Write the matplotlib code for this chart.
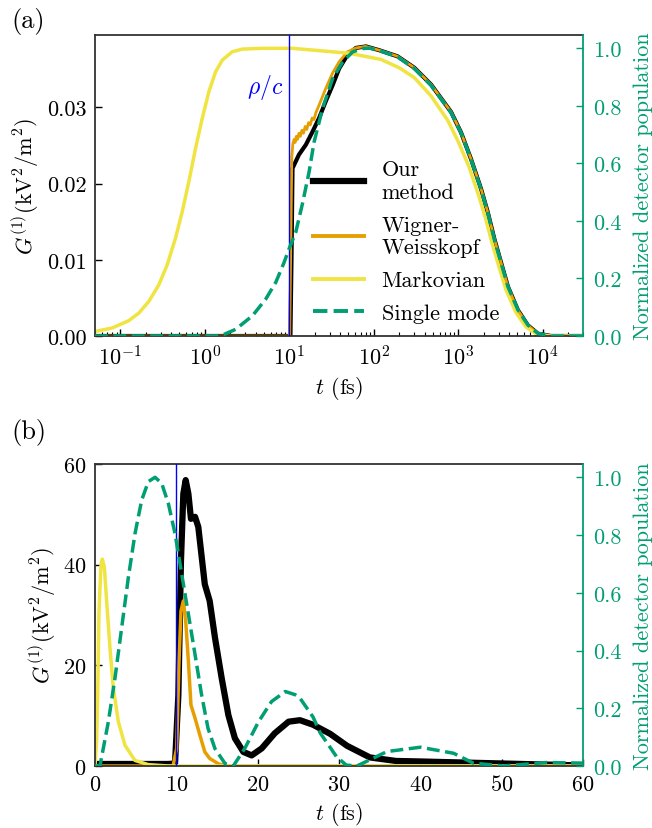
import numpy as np
import matplotlib
matplotlib.use("Agg")
import matplotlib.pyplot as plt

plt.rcParams['font.family'] = 'serif'
plt.rcParams['font.serif'] = ['cmr10']
plt.rcParams['mathtext.fontset'] = 'cm'
plt.rcParams['axes.formatter.use_mathtext'] = True
plt.rcParams['font.size'] = 16

BLACK = 'black'
ORANGE = '#E69F00'
YELLOW = '#F0E442'
GREEN = '#009E73'
SPINE = '#333333'

# ---- panel (a): log time axis (fs), G in kV^2/m^2 ----
t_our_a = [0.05, 10.3, 10.6, 10.9, 13.0, 15.7, 18.8, 22.5, 27.0, 32.5, 38.9, 48.9, 61.3, 80.6,
           116, 191, 302, 476, 822, 1079, 1418, 1862, 2240, 2680, 3219, 3866, 5080, 6670,
           8770, 12600, 30000]
g_our_a = [0.0, 0.0, 0.010, 0.0220, 0.0238, 0.0251, 0.0268, 0.0286, 0.0308, 0.0329, 0.0351,
           0.0369, 0.0378, 0.0380,
           0.0375, 0.0367, 0.0352, 0.0330, 0.0294, 0.0267, 0.0232, 0.0193, 0.0162, 0.0127,
           0.0096, 0.0065, 0.0034, 0.0014, 0.0003, 0.0, 0.0]

t_ww_a = [0.05, 10.1, 10.4, 10.7, 11.0, 11.4, 11.7, 12.1, 12.5, 13.0, 13.5, 14.1, 14.7, 15.4,
          16.1, 16.9, 17.7, 18.6, 19.6, 20.6, 22.5, 27.0, 32.5, 38.9, 48.9, 61.3, 80.0,
          116, 191, 302, 476, 822, 1079, 1418, 1862, 2240, 2680, 3219, 3866, 5080, 6670,
          8770, 12600, 30000]
g_ww_a = [0.0, 0.0, 0.012, 0.0235, 0.0252, 0.0258, 0.0254, 0.0262, 0.0258, 0.0266, 0.0262,
          0.0270, 0.0266, 0.0275, 0.0271, 0.0280, 0.0277, 0.0286, 0.0284, 0.0293, 0.0303,
          0.0325, 0.0345, 0.0360, 0.0373, 0.0378, 0.0380,
          0.0375, 0.0367, 0.0352, 0.0330, 0.0294, 0.0267, 0.0232, 0.0193, 0.0162, 0.0127,
          0.0096, 0.0065, 0.0034, 0.0014, 0.0003, 0.0, 0.0]

t_mark_a = [0.0505, 0.0797, 0.125, 0.165, 0.217, 0.285, 0.358, 0.449, 0.540, 0.646, 0.776,
            0.931, 1.115, 1.34, 1.61, 2.11, 2.78, 4.79, 10.9, 51, 121, 200, 302, 476, 750,
            1000, 1340, 1760, 2120, 2540, 3050, 3660, 4810, 6320, 8300, 12000, 30000]
g_mark_a = [0.0006, 0.00105, 0.0020, 0.0030, 0.00454, 0.00672, 0.00934, 0.01284, 0.01633,
            0.02026, 0.02464, 0.02857, 0.03206, 0.03468, 0.03621, 0.0373, 0.03765, 0.03775,
            0.03775, 0.0371, 0.0363, 0.0352, 0.0339, 0.0315, 0.0283, 0.0255, 0.0222, 0.0183,
            0.0153, 0.0120, 0.0090, 0.0061, 0.0031, 0.0012, 0.0003, 0.0, 0.0]

t_single_a = [0.05, 1.34, 1.7, 2.31, 3.65, 5.25, 6.90, 8.65, 9.9, 11.9, 14.3, 17.1, 19.6, 24.7,
              32.5, 42.7, 56, 73.6, 90, 121, 191, 302, 476, 822, 1079, 1418, 1862, 2240,
              2680, 3219, 3866, 5080, 6670, 8770, 12600, 30000]
p_single_a = [0.0, 0.0, 0.006, 0.023, 0.070, 0.128, 0.186, 0.255, 0.302, 0.36, 0.46, 0.569,
              0.673, 0.790, 0.894, 0.952, 0.987, 0.999, 1.0, 0.99, 0.970, 0.929, 0.871, 0.776,
              0.706, 0.613, 0.509, 0.428, 0.334, 0.253, 0.172, 0.091, 0.038, 0.009, 0.0, 0.0]

# ---- panel (b): linear time axis (fs) ----
t_our_b = [0, 9.0, 9.84, 10.25, 10.57, 10.86, 11.15, 11.48, 11.8, 12.3, 12.7, 13.12, 13.5,
           14.1, 14.75, 15.57, 16.4, 17.2, 18.24, 19.26, 20.5, 22.1, 23.8, 25.2, 26.8, 28.9,
           31.0, 33.8, 37, 40, 45, 50, 55, 60]
g_our_b = [0.4, 0.4, 0.5, 14.1, 40.8, 54.1, 56.8, 54.1, 49.1, 49.5, 47.5, 41.5, 36.1, 32.8,
           25.5, 17.5, 10.1, 5.5, 2.8, 2.1, 3.5, 6.5, 8.8, 9.1, 8.2, 6.4, 4.0, 1.7, 1.0, 0.9,
           0.7, 0.5, 0.3, 0.1]

t_ww_b = [0, 9.6, 10.04, 10.33, 10.57, 10.86, 11.15, 11.48, 11.8, 12.3, 12.9, 13.5, 14.1,
          15.2, 16.4, 60]
g_ww_b = [0.0, 0.0, 3.5, 20.8, 30.8, 32.8, 28.8, 20.8, 12.1, 9.5, 6.1, 2.8, 1.5, 0.4, 0.0, 0.0]

t_mark_b = [0, 0.2, 0.33, 0.49, 0.74, 0.90, 1.15, 1.43, 1.84, 2.25, 2.87, 3.69, 4.92, 6.56,
            9.0, 60]
g_mark_b = [0.0, 5.0, 14.1, 30.8, 40.1, 41.1, 39.5, 32.8, 23.5, 15.5, 8.8, 4.1, 1.1, 0.27,
            0.0, 0.0]

t_single_b = [0, 0.61, 1.64, 2.46, 3.28, 4.10, 4.92, 5.74, 6.56, 7.38, 8.2, 9.02, 9.84, 10.66,
              11.48, 12.3, 13.1, 13.9, 14.75, 16.0, 17.0, 18.4, 20.1, 21.7, 23.4, 24.6, 25.2,
              26.8, 27.7, 29.7, 30.9, 32.2, 35.9, 40, 44.1, 46.5, 50.2, 55.5, 60]
p_single_b = [0.0, 0.0, 0.153, 0.305, 0.479, 0.653, 0.805, 0.921, 0.985, 1.0, 0.979, 0.909,
              0.805, 0.665, 0.526, 0.386, 0.247, 0.130, 0.06, 0.008, 0.0, 0.06, 0.153, 0.223,
              0.258, 0.247, 0.235, 0.17, 0.114, 0.032, 0.003, 0.0, 0.05, 0.065, 0.044, 0.01,
              0.0, 0.012, 0.01]

rho_over_c = 10.0

labels = ['Our\nmethod', 'Wigner-\nWeisskopf', 'Markovian', 'Single mode']


def style_axes(ax, ax2):
    for side in ['left', 'top', 'bottom']:
        ax.spines[side].set_color(SPINE)
        ax.spines[side].set_linewidth(1.3)
    ax.spines['right'].set_visible(False)
    ax2.spines['right'].set_color(GREEN)
    ax2.spines['right'].set_linewidth(1.3)
    for side in ['left', 'top', 'bottom']:
        ax2.spines[side].set_visible(False)
    ax.tick_params(which='both', direction='in', top=False, right=False)
    ax.tick_params(which='major', length=5, width=1, pad=6)
    ax.tick_params(which='minor', length=3, width=0.8)
    ax2.tick_params(axis='y', direction='in', length=5, width=1, colors=GREEN, pad=7)
    ax2.set_ylabel('Normalized detector population', color=GREEN, labelpad=9)
    ax2.set_ylim(0, 1.046)
    ax2.set_yticks([0.0, 0.2, 0.4, 0.6, 0.8, 1.0])
    ax2.set_yticklabels(['0.0', '0.2', '0.4', '0.6', '0.8', '1.0'])


fig = plt.figure(figsize=(6.52, 8.29), dpi=100)
ax_a = fig.add_axes([0.1457, 0.5935, 0.7485, 0.3631])
ax_b = fig.add_axes([0.1457, 0.0748, 0.7485, 0.3643])

# (a)
l1, = ax_a.plot(t_our_a, g_our_a, color=BLACK, lw=3.0)
l2, = ax_a.plot(t_ww_a, g_ww_a, color=ORANGE, lw=2.0)
l3, = ax_a.plot(t_mark_a, g_mark_a, color=YELLOW, lw=2.5)
ax_a.axvline(rho_over_c, color='blue', lw=1.0, zorder=5)
ax_a.set_xscale('log')
ax_a.set_xlim(0.05, 3e4)
ax_a.set_ylim(0, 0.0395)
ax_a.set_yticks([0.0, 0.01, 0.02, 0.03])
ax_a.set_yticklabels(['0.00', '0.01', '0.02', '0.03'])
ax_a.set_xlabel('$t$ (fs)', labelpad=4)
ax_a.set_ylabel(r'$G^{(1)}(\mathrm{kV}^2/\mathrm{m}^2)$', labelpad=4)
ax_a.text(0.348, 0.83, r'$\rho/c$', color='blue', transform=ax_a.transAxes,
          ha='center', va='center', fontsize=17)
ax2_a = ax_a.twinx()
l4, = ax2_a.plot(t_single_a, p_single_a, color=GREEN, lw=2.5, ls='--')
style_axes(ax_a, ax2_a)
leg = ax2_a.legend([l1, l2, l3, l4], labels, loc='lower left', bbox_to_anchor=(0.405, -0.024),
                   frameon=False, handlelength=2.3, handletextpad=0.8, labelspacing=0.6,
                   fontsize=16)
leg.get_lines()[0].set_linewidth(4.5)
for ln in leg.get_lines()[1:]:
    ln.set_linewidth(2.8)

# (b)
ax_b.plot(t_our_b, g_our_b, color=BLACK, lw=4.5)
ax_b.plot(t_ww_b, g_ww_b, color=ORANGE, lw=2.5)
ax_b.plot(t_mark_b, g_mark_b, color=YELLOW, lw=2.5)
ax_b.axvline(rho_over_c, color='blue', lw=1.0, zorder=5)
ax_b.set_xlim(0, 60)
ax_b.set_ylim(0, 60)
ax_b.set_xticks([0, 10, 20, 30, 40, 50, 60])
ax_b.set_yticks([0, 20, 40, 60])
ax_b.set_xlabel('$t$ (fs)', labelpad=4)
ax_b.set_ylabel(r'$G^{(1)}(\mathrm{kV}^2/\mathrm{m}^2)$', labelpad=4)
ax2_b = ax_b.twinx()
ax2_b.plot(t_single_b, p_single_b, color=GREEN, lw=2.5, ls='--')
style_axes(ax_b, ax2_b)

fig.text(0.017, 0.99, '(a)', fontsize=19, va='top', ha='left')
fig.text(0.017, 0.495, '(b)', fontsize=19, va='top', ha='left')

fig.savefig('out.png', dpi=100)
